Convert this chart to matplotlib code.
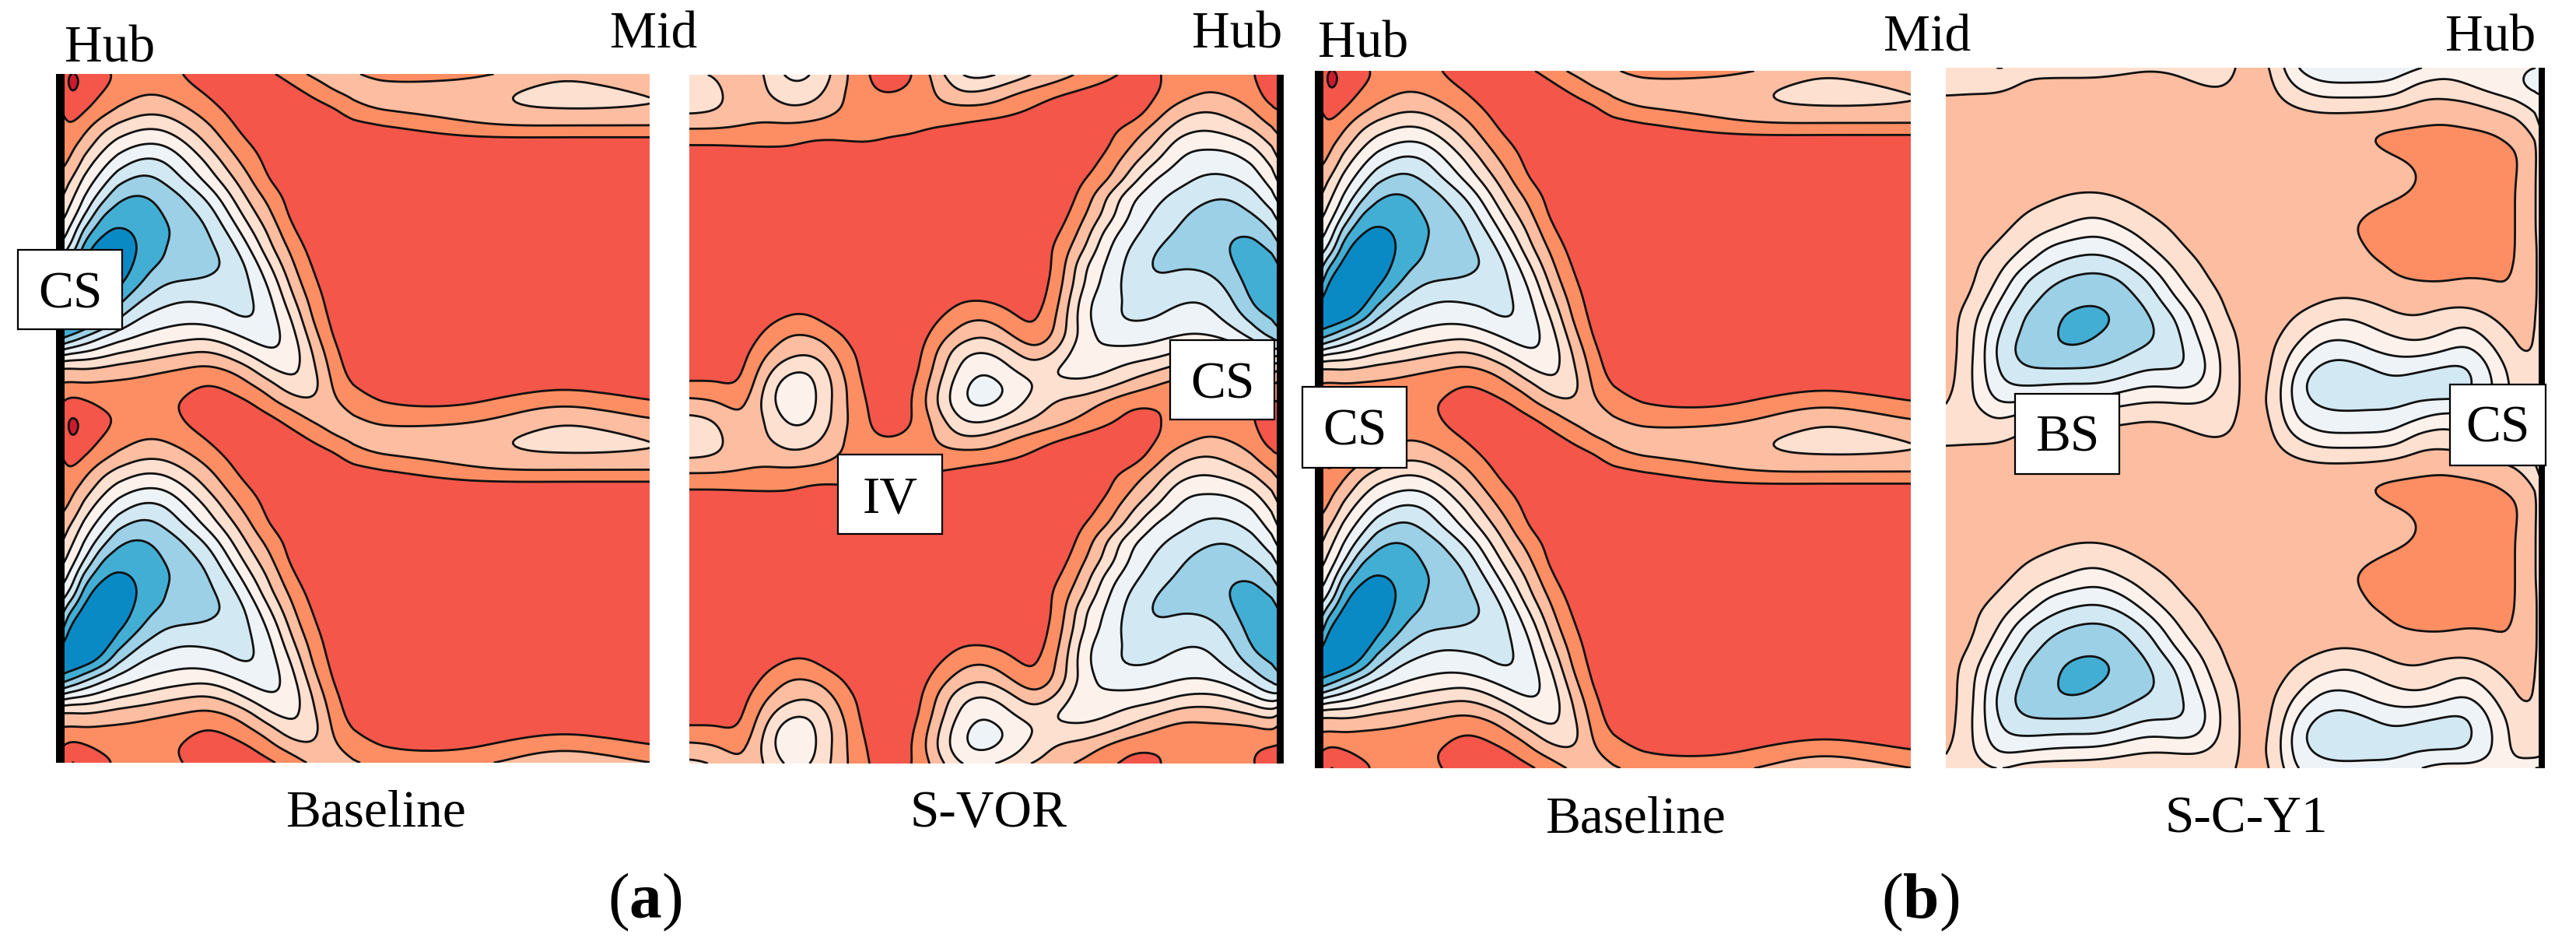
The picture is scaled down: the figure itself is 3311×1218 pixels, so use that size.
import numpy as np
import matplotlib
matplotlib.use('Agg')
import matplotlib.pyplot as plt
from matplotlib.patches import Rectangle

plt.rcParams['font.family'] = ['Liberation Serif', 'DejaVu Serif']
plt.rcParams['mathtext.fontset'] = 'custom'
plt.rcParams['mathtext.rm'] = 'Liberation Serif'
plt.rcParams['mathtext.bf'] = 'Liberation Serif:bold'

W, H = 3311, 1218

# band values, one blade pitch per grid (top to bottom), every panel shows two pitches
r = 1.2
base_cols = [135, 165, 200, 240, 280, 330, 380, 430, 480, 530, 580, 630, 680, 730, 780, 830, 900, 1000, 1100, 1200, 1300, 1400, 1522]
base_grid = [
    [2.0, 0.4, 1.3, 1.7, 2.1, 2.4, 2.4, 1.9, 1.5, 1.3, 1.3, 1.6, 2.4, 3.2, 3.5, 3.2, 2.8, 2.8, 2.9, 3.4, 4.05, 3.7, 3.0],
    [2.2, 0.6, 1.5, 2.0, 2.5, 2.95, 2.9, 2.4, 1.9, 1.4, 1.2, 1.2, 1.5, 2.2, 3.1, 3.3, 3.4, 3.5, 3.7, 4.2, 4.4, 4.4, 4.0],
    [2.3, 1.5, 1.9, 2.6, 3.2, 3.7, 3.7, 3.2, 2.5, 1.8, 1.3, 1.1, 1.1, 1.3, 1.7, 2.9, 3.2, 3.4, 3.6, 4.0, 4.05, 4.05, 4.0],
    [2.5, 1.9, 2.8, 3.8, 4.4, 5.0, 4.9, 4.1, 3.3, 2.3, 1.5, 1.1, 1.1, 1.1, 1.2, 1.4, 1.8, 2.3, 2.8, 2.95, 2.9, 2.9, 2.9],
    [2.4, 2.7, 3.5, 4.7, 5.6, 6.1, 6.1, 5.2, 4.0, 2.9, 2.0, 1.5, 1.2, 1.1, 1.1, 1.1, 1.1, 1.2, r, r, r, r, r],
    [2.7, 2.9, 4.5, 5.7, 6.6, 7.4, 7.2, 6.1, 5.0, 3.6, 2.5, 1.6, 1.1, 1.1, 1.1, r, r, r, r, r, r, r, r],
    [2.9, 3.9, 5.4, 6.5, 7.8, 8.4, 7.9, 6.9, 5.7, 4.4, 3.1, 1.8, 1.2, 1.1, 1.1, r, r, r, r, r, r, r, r],
    [3.5, 4.7, 6.1, 7.6, 9.1, 9.2, 8.7, 8.0, 6.9, 5.3, 3.7, 2.6, 1.5, 1.1, 1.1, r, r, r, r, r, r, r, r],
    [4.2, 5.3, 6.9, 9.2, 9.5, 9.5, 9.0, 8.4, 7.8, 6.1, 4.4, 3.1, 1.6, 1.1, 1.1, r, r, r, r, r, r, r, r],
    [5.1, 6.1, 8.6, 9.9, 10.3, 9.7, 9.2, 8.7, 8.2, 7.0, 5.2, 3.7, 2.1, 1.2, 1.1, r, r, r, r, r, r, r, r],
    [6.0, 6.9, 9.8, 10.8, 10.8, 9.8, 9.0, 8.6, 8.3, 7.7, 6.1, 4.1, 2.7, 1.5, 1.2, 1.1, r, r, r, r, r, r, r],
    [6.9, 9.0, 10.6, 11.2, 10.8, 9.4, 8.9, 8.6, 8.3, 8.0, 6.9, 5.0, 3.1, 1.8, 1.2, 1.1, r, r, r, r, r, r, r],
    [7.6, 10.4, 11.2, 11.2, 10.2, 9.0, 8.0, 7.9, 7.9, 7.6, 7.2, 5.8, 3.6, 2.1, 1.3, 1.1, r, r, r, r, r, r, r],
    [9.5, 11.0, 11.2, 10.6, 9.3, 7.9, 7.3, 7.0, 7.1, 7.2, 7.3, 6.3, 4.2, 2.5, 1.4, 1.1, r, r, r, r, r, r, r],
    [10.8, 11.0, 10.8, 9.7, 7.9, 6.9, 6.5, 6.3, 6.5, 6.9, 7.3, 6.5, 5.0, 2.7, 1.6, 1.1, r, r, r, r, r, r, r],
    [10.2, 9.4, 8.2, 7.1, 6.6, 6.0, 5.7, 5.5, 5.3, 5.8, 6.4, 6.6, 5.5, 3.3, 1.7, 1.1, r, r, r, r, r, r, r],
    [6.9, 6.2, 6.0, 5.6, 5.1, 4.8, 4.4, 4.1, 3.9, 4.4, 5.4, 6.1, 5.8, 3.9, 2.1, 1.2, r, r, r, r, r, r, r],
    [3.6, 3.7, 3.9, 3.7, 3.5, 3.3, 3.1, 2.9, 2.7, 3.0, 3.7, 5.1, 5.5, 4.3, 2.4, 1.4, r, r, r, r, r, r, r],
    [2.9, 2.8, 2.8, 2.7, 2.7, 2.6, 2.4, 2.2, 1.8, 2.1, 2.8, 3.5, 4.8, 4.7, 2.6, 1.9, 1.3, 1.2, 1.3, 1.5, 1.8, 1.6, 1.3],
    [2.2, 1.4, 1.8, 2.2, 2.3, 2.3, 2.1, 1.9, 1.5, 1.5, 1.8, 2.7, 3.4, 3.9, 3.2, 2.5, 1.9, 1.7, 1.9, 2.5, 2.9, 2.6, 2.0],
]

vor_cols = [50, 110, 170, 230, 290, 350, 410, 470, 530, 590, 650, 710, 770, 830, 890, 950, 1010, 1070, 1130, 1190, 1250, 1310, 1370, 1430, 1480, 1510]
vor_grid = [
    [4.4, 4.1, 2.9, 4.0, 5.4, 5.0, 3.5, 2.2, 1.3, 1.8, 3.3, 5.1, 5.2, 4.5, 3.9, 3.4, 2.8, 2.2, 1.7, 1.9, 2.3, 2.6, 2.4, 2.0, 1.4, 1.8],
    [5.1, 4.3, 3.4, 3.9, 4.6, 4.4, 3.2, 2.2, 2.0, 2.3, 3.0, 4.0, 3.7, 3.0, 2.5, 2.0, 1.6, 1.3, 1.2, 1.9, 2.5, 3.1, 2.9, 2.4, 1.2, 1.8],
    [4.2, 4.1, 3.5, 3.4, 3.9, 3.6, 3.0, 2.6, 2.4, 2.5, 2.7, 2.5, 2.6, 2.3, 1.8, 1.3, 1.1, 1.1, 1.2, 2.5, 3.7, 4.1, 3.7, 3.0, 2.0, 2.0],
    [3.0, 3.0, 2.9, 2.7, 2.6, 2.5, 2.4, 2.3, 2.1, 2.2, 1.9, 1.8, 1.4, 1.2, 1.1, 1.1, 1.2, 1.7, 2.4, 3.4, 4.6, 5.0, 4.5, 3.9, 2.9, 2.5],
    [1.9, 1.9, 2.0, 2.1, 2.1, 1.7, 1.8, 2.0, 1.9, 1.7, 1.3, 1.2, 1.1, 1.1, 1.1, 1.1, 1.1, 1.8, 3.0, 4.1, 5.8, 5.9, 5.8, 5.0, 3.8, 3.0],
    [r, r, r, r, r, r, r, r, r, r, r, r, r, r, r, r, 1.4, 2.4, 3.8, 5.1, 6.3, 6.6, 6.6, 6.0, 4.6, 3.5],
    [r, r, r, r, r, r, r, r, r, r, r, r, r, r, r, r, 1.9, 2.8, 4.6, 6.3, 6.7, 7.3, 7.2, 6.6, 5.4, 4.2],
    [r, r, r, r, r, r, r, r, r, r, r, r, r, r, r, r, 2.3, 4.2, 6.0, 6.8, 7.4, 7.9, 8.1, 7.4, 6.2, 5.0],
    [r, r, r, r, r, r, r, r, r, r, r, r, r, r, r, 1.4, 2.8, 4.3, 6.3, 7.2, 7.9, 8.4, 8.5, 8.0, 7.2, 6.0],
    [r, r, r, r, r, r, r, r, r, r, r, r, r, r, r, 1.8, 3.3, 5.5, 6.7, 7.6, 8.2, 8.5, 8.9, 9.0, 7.8, 7.0],
    [r, r, r, r, r, r, r, r, r, r, r, r, r, r, r, 2.3, 3.8, 6.0, 7.2, 8.1, 8.4, 8.5, 9.1, 9.5, 8.8, 7.7],
    [r, r, r, r, r, r, r, r, r, r, r, r, r, r, r, 2.2, 5.0, 6.2, 7.5, 8.3, 8.1, 8.2, 8.8, 9.8, 9.6, 8.5],
    [r, r, r, r, r, r, r, r, r, r, r, r, r, r, r, 2.5, 5.0, 6.5, 7.5, 7.9, 7.5, 7.4, 8.3, 9.6, 9.9, 9.0],
    [r, r, r, r, 1.7, 1.7, r, r, r, r, r, 2.0, 2.0, 1.6, 1.4, 2.7, 5.7, 6.8, 7.1, 7.5, 7.1, 7.0, 7.7, 9.4, 9.8, 9.8],
    [1.1, 1.1, 1.1, 1.6, 2.1, 2.0, 1.2, 1.1, 1.1, 1.1, 1.8, 2.8, 3.0, 2.2, 1.6, 3.1, 5.8, 6.9, 7.2, 7.1, 6.4, 6.6, 7.3, 8.5, 9.2, 9.5],
    [1.1, 1.1, 1.2, 2.2, 3.2, 3.0, 2.2, 1.1, 1.1, 1.2, 2.4, 3.5, 4.0, 3.0, 1.9, 3.3, 5.5, 6.5, 6.7, 6.3, 6.1, 6.0, 6.4, 7.5, 8.5, 9.3],
    [1.1, 1.2, 1.5, 2.9, 3.7, 3.9, 2.7, 1.6, 1.1, 1.3, 3.0, 4.9, 5.2, 4.4, 3.1, 4.2, 6.0, 5.7, 5.6, 5.5, 4.9, 4.7, 5.0, 6.0, 7.0, 6.0],
    [1.4, 1.6, 1.6, 3.6, 5.0, 5.0, 3.2, 1.6, 1.1, 1.4, 3.3, 5.4, 6.1, 5.1, 4.4, 5.4, 5.5, 5.2, 4.6, 4.1, 3.4, 3.4, 3.6, 4.0, 4.5, 3.0],
    [2.3, 2.2, 1.8, 4.3, 6.1, 5.2, 3.6, 1.8, 1.1, 1.7, 3.8, 6.0, 6.6, 6.0, 5.0, 4.6, 4.7, 4.2, 3.5, 2.8, 2.4, 2.6, 2.5, 2.5, 3.0, 2.0],
    [3.4, 3.2, 2.5, 4.5, 6.0, 5.3, 3.4, 2.1, 1.2, 1.8, 4.1, 6.0, 6.4, 5.6, 4.5, 3.7, 3.4, 2.6, 1.9, 2.0, 2.1, 2.2, 2.2, 2.1, 1.7, 1.9],
]

yc_cols = [40, 100, 160, 220, 280, 340, 400, 460, 520, 580, 640, 700, 760, 820, 880, 940, 1000, 1060, 1120, 1180, 1240, 1300, 1360, 1420, 1470, 1495]
b = 3.5
yc_grid = [
    [4.1, 4.3, 5.1, 4.2, 4.2, 4.2, 4.2, 4.1, 3.9, 4.0, 4.3, 4.4, 3.7, 3.6, 6.1, 6.6, 6.7, 6.6, 6.5, 6.0, 5.2, 5.4, 5.4, 5.5, 7.0, 6.0],
    [4.2, 4.2, 4.2, 3.8, 3.7, 3.7, 3.7, 3.6, 3.6, 3.7, 3.9, 4.1, 3.7, 3.6, 5.0, 5.8, 5.8, 5.8, 5.8, 4.5, 4.6, 5.0, 5.5, 5.8, 6.5, 6.0],
    [3.8, 3.7, 3.6, b, b, b, b, b, b, b, b, 3.6, b, 3.6, 4.0, 4.4, 4.4, 4.4, 4.2, 3.8, 3.6, 3.7, 4.2, 4.7, 5.4, 6.0],
    [b, b, b, b, b, b, b, b, b, b, b, b, b, b, b, b, b, 3.4, 3.3, 3.1, 3.0, 3.2, 3.3, 3.7, 4.7, 6.0],
    [b, b, b, b, b, b, b, b, b, b, b, b, b, b, b, b, b, 2.9, 2.6, 2.6, 2.6, 2.6, 2.8, 3.2, 4.0, 5.0],
    [b, b, b, b, b, b, b, b, b, b, b, b, b, b, b, b, b, 3.4, 3.05, 2.8, 2.5, 2.5, 2.5, 2.8, 4.0, 5.0],
    [b, b, b, b, b, b, b, b, b, b, b, b, b, b, b, b, b, b, 3.4, 3.05, 2.5, 2.4, 2.4, 2.9, 4.05, 5.0],
    [b, b, b, 3.6, 3.7, 3.95, 4.0, 3.8, 3.6, b, b, b, b, b, b, b, 3.4, 3.3, 3.2, 2.9, 2.5, 2.5, 2.5, 2.95, 4.05, 5.0],
    [b, b, 3.6, 3.9, 4.2, 4.6, 4.7, 4.3, 3.9, 3.6, b, b, b, b, b, b, 3.4, 3.1, 2.8, 2.6, 2.5, 2.5, 2.5, 2.95, 4.05, 5.0],
    [b, b, 3.7, 4.2, 4.7, 5.2, 5.6, 5.0, 4.4, 3.9, 3.6, b, b, b, b, b, 3.3, 2.6, 2.5, 2.5, 2.5, 2.5, 2.5, 2.95, 4.05, 5.0],
    [b, 3.6, 4.0, 4.8, 6.0, 6.4, 6.6, 6.1, 5.0, 4.2, 3.7, b, b, b, b, b, 3.4, 2.9, 2.6, 2.5, 2.5, 2.5, 2.5, 2.95, 4.05, 4.5],
    [b, 3.8, 4.5, 5.7, 6.8, 7.3, 7.5, 7.1, 6.0, 4.8, 4.0, 3.6, b, b, b, b, 3.4, 3.1, 2.9, 2.8, 2.6, 2.6, 2.7, 2.95, 4.05, 4.5],
    [b, 3.8, 5.0, 6.9, 7.8, 8.3, 8.5, 8.1, 7.1, 5.5, 4.3, 3.7, b, b, b, b, b, 3.4, 3.0, 2.9, 2.9, 3.1, 3.0, 2.95, 4.05, 4.5],
    [b, 4.0, 5.8, 7.4, 8.3, 8.6, 8.8, 8.4, 7.8, 6.2, 4.9, 3.9, b, b, 3.6, 3.8, 3.95, 3.8, 3.6, b, b, b, 3.2, 3.0, 4.05, 4.5],
    [b, 4.6, 6.5, 8.1, 8.6, 9.3, 9.4, 8.8, 8.2, 7.2, 5.6, 4.1, b, 3.6, 3.9, 4.4, 5.0, 4.6, 4.0, 3.9, 4.3, 4.5, 3.9, b, 4.05, 4.5],
    [b, 4.8, 7.1, 8.2, 8.8, 9.4, 9.1, 8.7, 8.3, 7.6, 6.0, 4.5, 3.6, 3.6, 4.3, 5.6, 5.6, 5.3, 4.8, 4.5, 4.9, 5.5, 4.4, 3.7, 4.05, 4.5],
    [b, 4.8, 7.5, 8.4, 8.9, 9.0, 8.7, 8.3, 7.9, 7.6, 6.5, 4.8, 3.6, 3.6, 5.2, 6.4, 6.7, 6.0, 5.6, 5.4, 5.9, 6.4, 5.2, 3.8, 4.05, 4.5],
    [b, 5.0, 7.2, 8.1, 8.1, 8.1, 8.05, 7.7, 7.1, 7.2, 6.9, 4.9, 3.6, 3.6, 6.0, 7.3, 7.4, 7.1, 6.6, 6.9, 7.2, 7.3, 5.8, 4.3, 4.05, 4.5],
    [3.6, 5.0, 6.9, 7.1, 7.0, 6.9, 7.0, 6.5, 6.0, 6.2, 6.3, 4.9, 3.6, 3.7, 6.6, 7.8, 8.3, 7.5, 7.3, 7.5, 7.5, 7.4, 6.1, 4.4, 3.9, 4.5],
    [3.9, 4.9, 6.2, 6.0, 5.7, 5.6, 5.5, 5.2, 4.95, 4.95, 5.05, 4.6, 3.7, 3.8, 6.5, 7.2, 7.3, 7.3, 7.4, 7.0, 7.0, 7.0, 6.0, 4.6, 4.0, 5.0],
]

band_colors = ['#CB1A2E', '#F4564A', '#FD8E63', '#FDBDA0', '#FEE0D0', '#FDF1EC',
               '#EEF3F8', '#D2E8F2', '#9BD0E6', '#43AED4', '#0A8AC5']
band_levels = [-20, 1, 2, 3, 4, 5, 6, 7, 8, 9, 10, 30]
line_levels = [1, 2, 3, 4, 5, 6, 7, 8, 9, 10]

# text anchors are centre x, baseline y in image pixels
hub_labels = [('Hub', 141, 80), ('Mid', 840, 62), ('Hub', 1590, 62), ('Hub', 1752, 73), ('Mid', 2477, 66), ('Hub', 3201, 66)]
names = [('Baseline', 483, 1062), ('S-VOR', 1271, 1062), ('Baseline', 2102, 1069), ('S-C-Y1', 2887, 1069)]
tags = [('a', 829, 1179), ('b', 2468, 1179)]
boxes = [('CS', 23, 321, 157, 423), ('CS', 1504, 437, 1638, 539), ('IV', 1077, 584, 1211, 686),
         ('CS', 1674, 497, 1808, 601), ('BS', 2590, 506, 2724, 609), ('CS', 3149, 494, 3272, 598)]


def smooth(z, n, axis, wrap):
    kernel = np.ones(n) / n
    pad = n * 2
    if wrap:
        z = np.concatenate([np.take(z, range(-pad, 0), axis), z, np.take(z, range(pad), axis)], axis)
    else:
        z = np.pad(z, [(pad, pad) if a == axis else (0, 0) for a in range(2)], mode='edge')
    for _ in range(2):
        z = np.apply_along_axis(lambda v: np.convolve(v, kernel, mode='same'), axis, z)
    return np.take(z, range(pad, z.shape[axis] - pad), axis)


def fine_field(cols, grid, sub=8):
    z = np.array(grid, dtype=float)
    nr, nc = z.shape
    xi = np.arange(nc)
    xf = np.linspace(0, nc - 1, (nc - 1) * sub + 1)
    yi = np.arange(nr + 1)
    yf = np.arange(nr * sub) / sub
    z = np.vstack([z, z[:1]])
    z = np.array([np.interp(xf, xi, row) for row in z])
    z = np.array([np.interp(yf, yi, z[:, j]) for j in range(z.shape[1])]).T
    z = smooth(z, sub, 0, True)
    z = smooth(z, sub, 1, False)
    z2 = np.vstack([z, z, z[:1]])
    x = np.interp(xf, xi, cols)
    x = (x - x[0]) / (x[-1] - x[0])
    y = np.linspace(0, 2, z2.shape[0])
    return x, y, z2


def draw_panel(fig, box, cols, grid, hub, hub_px):
    x0, y0, x1, y1 = box
    ax = fig.add_axes([x0 / W, 1 - y1 / H, (x1 - x0) / W, (y1 - y0) / H])
    x, y, z = fine_field(cols, grid)
    ax.contourf(x, y, z, levels=band_levels, colors=band_colors)
    ax.contour(x, y, z, levels=line_levels, colors='#111111', linewidths=2.0)
    ax.plot([hub, hub], [0, 2], color='black', lw=hub_px * 2 * 0.72, solid_capstyle='butt')
    ax.set_xlim(0, 1)
    ax.set_ylim(2, 0)
    ax.axis('off')
    return ax


fig = plt.figure(figsize=(W / 100, H / 100), dpi=100)
draw_panel(fig, (72, 95, 835, 980), base_cols, base_grid, 0, 11)
draw_panel(fig, (886, 96, 1650, 981), vor_cols, vor_grid, 1, 9)
draw_panel(fig, (1690, 91, 2456, 987), base_cols, base_grid, 0, 11)
draw_panel(fig, (2501, 87, 3271, 987), yc_cols, yc_grid, 1, 8)

over = fig.add_axes([0, 0, 1, 1], zorder=5)
over.set_xlim(0, W)
over.set_ylim(H, 0)
over.axis('off')
for txt, x, y in hub_labels:
    over.text(x, y, txt, ha='center', va='baseline', fontsize=48.5, color='black')
for txt, x, y in names:
    over.text(x, y, txt, ha='center', va='baseline', fontsize=48.5, color='black')
for txt, x0, y0, x1, y1 in boxes:
    over.add_patch(Rectangle((x0, y0), x1 - x0, y1 - y0, facecolor='white', edgecolor='black', lw=1.6))
    over.text((x0 + x1) / 2, y0 + 74, txt, ha='center', va='baseline', fontsize=48.5, color='black')
for letter, x, y in tags:
    over.text(x, y, r'($\mathbf{' + letter + '}$)', ha='center', va='baseline', fontsize=60, color='black')

fig.savefig('out.png', dpi=100, facecolor='white')
